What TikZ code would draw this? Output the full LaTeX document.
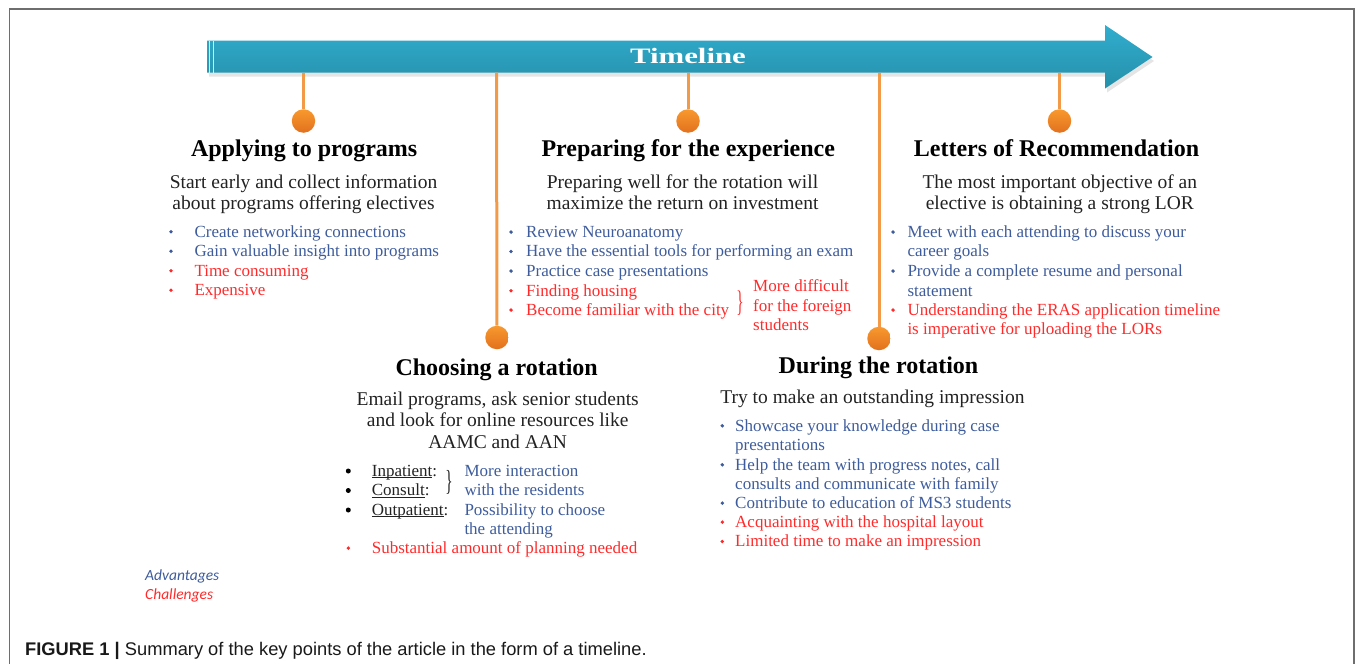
\documentclass[tikz,border=0pt]{standalone}
\usepackage{graphicx}
\usepackage{fontspec}
\setmainfont{Liberation Serif}
\newfontfamily\capfont{Liberation Sans}
\newfontfamily\legfont{Carlito}
\definecolor{advc}{HTML}{3E5C9C}
\definecolor{chlc}{HTML}{FF2B2B}
\definecolor{pinc}{HTML}{F39A48}
\definecolor{dottop}{HTML}{F8992F}
\definecolor{dotbot}{HTML}{E2711D}
\definecolor{arrtop}{HTML}{31ADCE}
\definecolor{arrbot}{HTML}{2590AA}
\definecolor{subc}{HTML}{222222}
\definecolor{framec}{HTML}{6E6E6E}
\newcounter{itm}
\newlength\ulwd
\newcommand\ulx[1]{\settowidth\ulwd{#1}\rlap{\rule[-1.6pt]{\ulwd}{0.7pt}}#1}
\newcommand\bitem[5]{\stepcounter{itm}%
  \node[bdot,fill=#4] (bd\theitm) at (#1,#3-5.2) {};%
  \node[itemtxt,text=#4] (it\theitm) at (#2,#3) {#5};}
\newcommand\citem[3]{\stepcounter{itm}%
  \node[itemtxt,text=#2] (it\theitm) at (#1) {#3};}
\begin{document}
\begin{tikzpicture}[x=1pt,y=-1pt,
  head/.style={font=\fontsize{24}{27}\selectfont\bfseries, anchor=base, inner sep=0},
  sub/.style={font=\fontsize{19.5}{21}\selectfont, text=subc, anchor=base, inner sep=0},
  itemtxt/.style={font=\fontsize{17}{19}\selectfont, anchor=base west, inner sep=0},
  bdot/.style={circle, inner sep=0, minimum size=3.8, draw=none},
  bigdot/.style={circle, inner sep=0, minimum size=5, draw=none, fill=black},
  pindot/.style={circle, inner sep=0, minimum size=23.5, draw=none, top color=dottop, bottom color=dotbot},
  pin/.style={pinc, line width=3},
  bracetxt/.style={font=\fontsize{17}{19}\selectfont, inner sep=0},
  leg/.style={font=\legfont\itshape\fontsize{15.5}{17}\selectfont, anchor=base west, inner sep=0}]
\useasboundingbox (0,0) rectangle (1355,664);
% frame
\draw[framec, line width=1.6] (9.5,664) -- (9.5,9) -- (1354,9) -- (1354,664);
% arrow shadow and arrow
\fill[black, opacity=0.10] (209,44.5) -- (1107,44.5) -- (1107,29) -- (1154,61) -- (1107,92.5) -- (1107,76.5) -- (209,76.5) -- cycle;
\shade[top color=arrtop, bottom color=arrbot] (207,40.7) -- (1105,40.7) -- (1105,25) -- (1152.5,57) -- (1105,88.5) -- (1105,72.7) -- (207,72.7) -- cycle;
\draw[white, opacity=0.8, line width=0.8] (209.8,40.7) -- (209.8,72.7);
\draw[white, opacity=0.8, line width=0.8] (213,40.7) -- (213,72.7);
\node[text=white, font=\fontsize{22}{24}\selectfont\bfseries, anchor=base, inner sep=0] (tl) at (688,63.3) {\scalebox{1.4}[1]{Timeline}};
% pins
\coordinate (a1) at (303.5,72.7);
\coordinate (a2) at (496.5,72.7);
\coordinate (a3) at (688,72.7);
\coordinate (a4) at (879,72.7);
\coordinate (a5) at (1059.5,72.7);
\node[pindot] (d1) at (303.5,121) {};
\node[pindot] (d2) at (497,337.5) {};
\node[pindot] (d3) at (688,121) {};
\node[pindot] (d4) at (879,338.5) {};
\node[pindot] (d5) at (1059.5,121) {};
\foreach \i in {1,...,5} {\draw[pin] (a\i) -- (d\i);}
% headings
\node[head] (h1) at (304.2,156.7) {Applying to programs};
\node[head] (h3) at (688.3,156.7) {Preparing for the experience};
\node[head] (h5) at (1056.5,156.7) {Letters of Recommendation};
\node[head] (h2) at (496.7,375) {Choosing a rotation};
\node[head] (h4) at (878.5,373.3) {During the rotation};
% subtitles
\node[sub] (s1a) at (303.5,188.3) {Start early and collect information};
\node[sub] (s1b) at (303.5,209) {about programs offering electives};
\node[sub] (s3a) at (682.5,188.3) {Preparing well for the rotation will};
\node[sub] (s3b) at (682.5,209) {maximize the return on investment};
\node[sub] (s5a) at (1059.8,188.3) {The most important objective of an};
\node[sub] (s5b) at (1059.8,209.5) {elective is obtaining a strong LOR};
\node[sub] (s2a) at (497.7,405) {Email programs, ask senior students};
\node[sub] (s2b) at (497.7,426.5) {and look for online resources like};
\node[sub] (s2c) at (497.7,448) {AAMC and AAN};
\node[sub] (s4a) at (872.5,403.3) {Try to make an outstanding impression};
% Applying items
\bitem{171}{194.3}{237}{advc}{Create networking connections}
\bitem{171}{194.3}{256.5}{advc}{Gain valuable insight into programs}
\bitem{171}{194.3}{276}{chlc}{Time consuming}
\bitem{171}{194.3}{295.5}{chlc}{Expensive}
% Preparing items
\bitem{511}{526}{237.3}{advc}{Review Neuroanatomy}
\bitem{511}{526}{256.7}{advc}{Have the essential tools for performing an exam}
\bitem{511}{526}{276.3}{advc}{Practice case presentations}
\bitem{511}{526}{296}{chlc}{Finding housing}
\bitem{511}{526}{315.3}{chlc}{Become familiar with the city}
\node[bracetxt, text=chlc] (br1) at (740,303) {\scalebox{0.9}[1.75]{\}}};
\citem{753,291.7}{chlc}{More difficult}
\citem{753,311.5}{chlc}{for the foreign}
\citem{753,330.5}{chlc}{students}
% Letters items
\bitem{893}{907.3}{237.3}{advc}{Meet with each attending to discuss your}
\citem{907.3,256.7}{advc}{career goals}
\bitem{893}{907.3}{276.3}{advc}{Provide a complete resume and personal}
\citem{907.3,296}{advc}{statement}
\bitem{893}{907.3}{315.3}{chlc}{Understanding the ERAS application timeline}
\citem{907.3,334.3}{chlc}{is imperative for uploading the LORs}
% Choosing items
\node[bigdot] (cb1) at (348.3,471) {};
\node[bigdot] (cb2) at (348.3,490.5) {};
\node[bigdot] (cb3) at (348.3,510) {};
\citem{371.7,476}{subc}{\ulx{Inpatient}:}
\citem{371.7,495.7}{subc}{\ulx{Consult}:}
\citem{371.7,515}{subc}{\ulx{Outpatient}:}
\node[bracetxt, text=subc] (br2) at (449,482.5) {\scalebox{0.9}[1.7]{\}}};
\citem{464.3,476}{advc}{More interaction}
\citem{464.3,495.7}{advc}{with the residents}
\citem{464.3,515}{advc}{Possibility to choose}
\citem{464.3,534.3}{advc}{the attending}
\bitem{348.3}{371.7}{553.3}{chlc}{Substantial amount of planning needed}
% During items
\bitem{722.3}{735}{431}{advc}{Showcase your knowledge during case}
\citem{735,450}{advc}{presentations}
\bitem{722.3}{735}{470}{advc}{Help the team with progress notes, call}
\citem{735,489}{advc}{consults and communicate with family}
\bitem{722.3}{735}{508.3}{advc}{Contribute to education of MS3 students}
\bitem{722.3}{735}{527.3}{chlc}{Acquainting with the hospital layout}
\bitem{722.3}{735}{546.7}{chlc}{Limited time to make an impression}
% legend
\node[leg, text=advc] (lg1) at (145,580) {Advantages};
\node[leg, text=chlc] (lg2) at (145,599.3) {Challenges};
% caption
\node[font=\capfont\fontsize{18.3}{20}\selectfont, text=black!90, anchor=base west, inner sep=0] (cap) at (25,655) {{\bfseries FIGURE 1 |} Summary of the key points of the article in the form of a timeline.};
\end{tikzpicture}
\end{document}
